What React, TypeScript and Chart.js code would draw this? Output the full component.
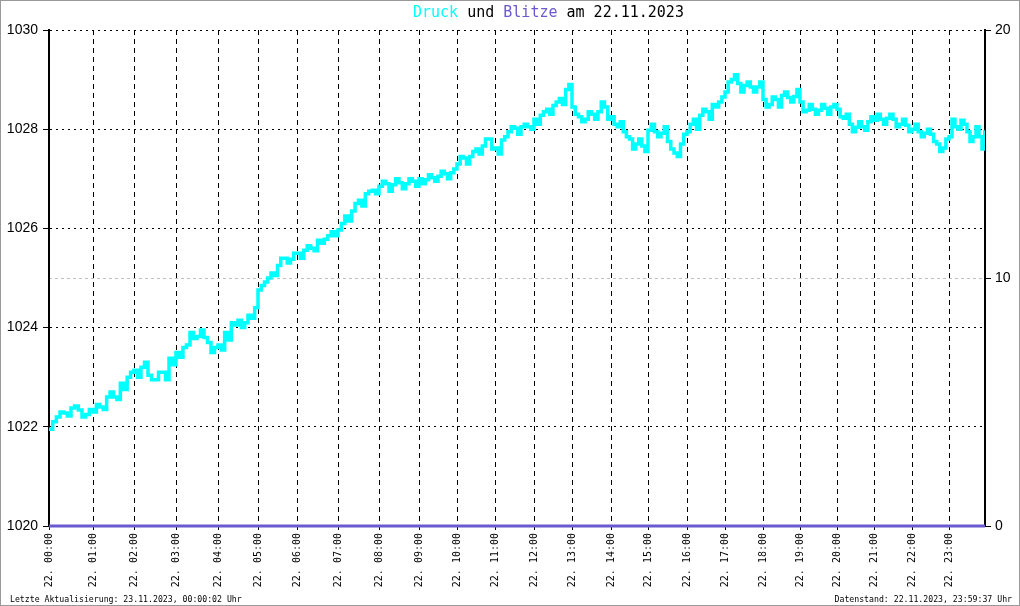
import React, { useEffect, useRef } from "react";
import { Chart, registerables } from "chart.js";

Chart.register(...registerables);

// Anzahl der Messpunkte pro Stunde (x-Achse = Messpunkt-Nummer)
const samplesPerHour = [44, 41, 42, 42, 40, 39, 41, 41, 40, 38, 38, 39, 38, 39, 37, 39, 38, 38, 37, 37, 37, 38, 37, 36];
const hourLabels = [
  "22. 00:00", "22. 01:00", "22. 02:00", "22. 03:00", "22. 04:00", "22. 05:00",
  "22. 06:00", "22. 07:00", "22. 08:00", "22. 09:00", "22. 10:00", "22. 11:00",
  "22. 12:00", "22. 13:00", "22. 14:00", "22. 15:00", "22. 16:00", "22. 17:00",
  "22. 18:00", "22. 19:00", "22. 20:00", "22. 21:00", "22. 22:00", "22. 23:00",
];

// Luftdruck (hPa) alle 5 Minuten ab 00:00 (je Zeile eine Stunde)
const pressureIntervalMin = 5;
const pressureValues = [
  1021.95, 1022.1, 1022.2, 1022.3, 1022.28, 1022.22, 1022.38, 1022.42, 1022.34, 1022.2, 1022.25, 1022.35,
  1022.3, 1022.45, 1022.4, 1022.35, 1022.6, 1022.7, 1022.6, 1022.55, 1022.88, 1022.75, 1023.0, 1023.1,
  1023.14, 1023.0, 1023.2, 1023.3, 1023.04, 1022.95, 1022.95, 1023.1, 1023.1, 1022.95, 1023.38, 1023.25,
  1023.5, 1023.4, 1023.6, 1023.65, 1023.9, 1023.78, 1023.82, 1023.95, 1023.8, 1023.7, 1023.5, 1023.6,
  1023.65, 1023.55, 1023.9, 1023.75, 1024.1, 1024.05, 1024.15, 1024.0, 1024.1, 1024.25, 1024.19, 1024.4,
  1024.76, 1024.85, 1024.92, 1025.0, 1025.1, 1025.05, 1025.25, 1025.4, 1025.4, 1025.3, 1025.38, 1025.5,
  1025.5, 1025.4, 1025.56, 1025.65, 1025.6, 1025.55, 1025.76, 1025.7, 1025.78, 1025.85, 1025.93, 1025.85,
  1025.97, 1026.1, 1026.25, 1026.15, 1026.35, 1026.5, 1026.57, 1026.45, 1026.7, 1026.75, 1026.77, 1026.7,
  1026.85, 1026.95, 1026.9, 1026.75, 1026.88, 1027.0, 1026.92, 1026.8, 1026.9, 1027.0, 1026.95, 1026.85,
  1027.0, 1026.9, 1026.98, 1027.08, 1027.02, 1026.95, 1027.05, 1027.15, 1027.1, 1027.0, 1027.12, 1027.2,
  1027.3, 1027.45, 1027.42, 1027.3, 1027.45, 1027.55, 1027.6, 1027.5, 1027.66, 1027.8, 1027.8, 1027.6,
  1027.62, 1027.5, 1027.78, 1027.85, 1027.95, 1028.05, 1028.02, 1027.9, 1028.05, 1028.1, 1028.05, 1028.0,
  1028.2, 1028.1, 1028.28, 1028.35, 1028.4, 1028.3, 1028.48, 1028.55, 1028.62, 1028.5, 1028.8, 1028.9,
  1028.45, 1028.3, 1028.25, 1028.15, 1028.2, 1028.35, 1028.3, 1028.2, 1028.35, 1028.55, 1028.45, 1028.2,
  1028.25, 1028.1, 1028.05, 1028.15, 1027.95, 1027.85, 1027.8, 1027.6, 1027.7, 1027.8, 1027.66, 1027.55,
  1027.98, 1028.1, 1027.95, 1027.85, 1027.92, 1028.05, 1027.75, 1027.6, 1027.52, 1027.45, 1027.7, 1027.9,
  1027.95, 1028.1, 1028.2, 1028.0, 1028.28, 1028.4, 1028.35, 1028.2, 1028.5, 1028.45, 1028.55, 1028.65,
  1028.75, 1028.95, 1029.0, 1029.1, 1028.92, 1028.75, 1028.88, 1028.95, 1028.85, 1028.75, 1028.85, 1028.95,
  1028.6, 1028.45, 1028.5, 1028.65, 1028.6, 1028.45, 1028.68, 1028.75, 1028.64, 1028.55, 1028.66, 1028.8,
  1028.55, 1028.35, 1028.38, 1028.5, 1028.4, 1028.3, 1028.38, 1028.5, 1028.42, 1028.3, 1028.45, 1028.5,
  1028.4, 1028.25, 1028.22, 1028.3, 1028.1, 1027.95, 1028.04, 1028.15, 1028.05, 1027.98, 1028.15, 1028.25,
  1028.18, 1028.3, 1028.2, 1028.1, 1028.22, 1028.3, 1028.2, 1028.05, 1028.1, 1028.2, 1028.08, 1027.95,
  1028.0, 1028.1, 1027.95, 1027.85, 1027.92, 1028.0, 1027.9, 1027.75, 1027.7, 1027.55, 1027.62, 1027.8,
  1027.85, 1028.2, 1028.05, 1028.0, 1028.18, 1028.1, 1027.95, 1027.75, 1027.85, 1028.05, 1027.85, 1027.6,
];
// letzter Messwert um 23:59:37
const lastSampleMinute = 1439.6;
const lastSampleValue = 1027.98;

// Blitze pro Stunde
const blitzeValues = [0, 0, 0, 0, 0, 0, 0, 0, 0, 0, 0, 0, 0, 0, 0, 0, 0, 0, 0, 0, 0, 0, 0, 0, 0];

const titleParts = [
  { text: "Druck", color: "#00ffff" },
  { text: " und ", color: "#000000" },
  { text: "Blitze", color: "#6a5acd" },
  { text: " am 22.11.2023", color: "#000000" },
];
const footerLeft = "Letzte Aktualisierung: 23.11.2023, 00:00:02 Uhr";
const footerRight = "Datenstand: 22.11.2023, 23:59:37 Uhr";

const hourStarts: number[] = [];
{
  let acc = 0;
  for (const n of samplesPerHour) {
    hourStarts.push(acc);
    acc += n;
  }
}
const totalSamples = samplesPerHour.reduce((a, b) => a + b, 0);

function minuteToIndex(m: number): number {
  const h = Math.min(Math.floor(m / 60), 23);
  const frac = (m - h * 60) / 60;
  return hourStarts[h] + frac * samplesPerHour[h];
}

const decorPlugin = {
  id: "decor",
  beforeDraw(chart: any) {
    const ctx = chart.ctx;
    ctx.save();
    ctx.fillStyle = "#ffffff";
    ctx.fillRect(0, 0, chart.width, chart.height);
    ctx.restore();
  },
  afterDraw(chart: any) {
    const ctx = chart.ctx;
    ctx.save();
    ctx.font = "15px 'DejaVu Sans Mono'";
    ctx.textBaseline = "middle";
    ctx.textAlign = "left";
    let x = 413;
    for (const p of titleParts) {
      ctx.fillStyle = p.color;
      ctx.fillText(p.text, x, 13);
      x += ctx.measureText(p.text).width;
    }
    ctx.font = "8.2px 'DejaVu Sans Mono'";
    ctx.fillStyle = "#000000";
    ctx.textAlign = "left";
    ctx.fillText(footerLeft, 10, 600);
    ctx.textAlign = "right";
    ctx.fillText(footerRight, 1012, 600);
    ctx.strokeStyle = "#999999";
    ctx.lineWidth = 1;
    ctx.strokeRect(0.5, 0.5, chart.width - 1, chart.height - 1);
    ctx.restore();
  },
};

export default function App() {
  const canvasRef = useRef<HTMLCanvasElement | null>(null);

  useEffect(() => {
    document.body.style.margin = "0";
    const canvas = canvasRef.current;
    if (!canvas) return;

    const pressureData = pressureValues.map((v, i) => ({ x: minuteToIndex(i * pressureIntervalMin), y: v }));
    pressureData.push({ x: minuteToIndex(lastSampleMinute), y: lastSampleValue });
    const blitzeData = blitzeValues.map((v, i) => ({ x: i < 24 ? hourStarts[i] : totalSamples, y: v }));

    const chart = new Chart(canvas, {
      type: "line",
      data: {
        datasets: [
          {
            label: "Druck",
            data: pressureData,
            yAxisID: "y",
            borderColor: "#00ffff",
            borderWidth: 3.5,
            pointRadius: 0,
            stepped: true,
          },
          {
            label: "Blitze",
            data: blitzeData,
            yAxisID: "y2",
            borderColor: "#6a5acd",
            borderWidth: 3,
            pointRadius: 0,
            clip: false,
          },
        ],
      },
      options: {
        animation: false,
        responsive: false,
        devicePixelRatio: 1,
        layout: { padding: { top: 30, left: 0, right: 0, bottom: 0 } },
        plugins: {
          legend: { display: false },
          title: { display: false },
          tooltip: { enabled: false },
        },
        scales: {
          x: {
            type: "linear",
            min: 0,
            max: totalSamples,
            afterBuildTicks: (scale: any) => {
              scale.ticks = hourStarts.map((v) => ({ value: v }));
            },
            afterFit: (scale: any) => {
              scale.height = 80;
            },
            ticks: {
              autoSkip: false,
              minRotation: 90,
              maxRotation: 90,
              padding: 3,
              color: "#000000",
              font: { family: "'DejaVu Sans Mono'", size: 10 },
              callback: (_v: any, i: number) => hourLabels[i],
            },
            grid: {
              color: "#000000",
              lineWidth: 1,
              tickLength: 4,
              tickColor: "#000000",
            },
            border: { display: true, color: "#000000", width: 1, dash: [5, 4] },
          },
          y: {
            type: "linear",
            position: "left",
            min: 1020,
            max: 1030,
            afterFit: (scale: any) => {
              scale.width = 49;
            },
            ticks: {
              stepSize: 2,
              padding: 5,
              color: "#000000",
              font: { family: "'Liberation Sans'", size: 14 },
              callback: (v: any) => String(v),
            },
            grid: {
              color: "#000000",
              lineWidth: 1,
              tickLength: 6,
              tickColor: "#000000",
            },
            border: { display: true, color: "#000000", width: 2, dash: [2, 4] },
          },
          y2: {
            type: "linear",
            position: "right",
            min: 0,
            max: 20,
            afterFit: (scale: any) => {
              scale.width = 35;
            },
            ticks: {
              stepSize: 10,
              padding: 4,
              color: "#000000",
              font: { family: "'Liberation Sans'", size: 14 },
              callback: (v: any) => String(v),
            },
            grid: {
              color: (c: any) => (c.tick && c.tick.value === 10 ? "#c0c0c0" : "rgba(0,0,0,0)"),
              lineWidth: 1,
              tickLength: 6,
              tickColor: "#000000",
            },
            border: { display: true, color: "#000000", width: 2, dash: [3, 3] },
          },
        },
      },
      plugins: [decorPlugin],
    } as any);

    return () => chart.destroy();
  }, []);

  return (
    <div style={{ width: 1020, height: 606, position: "relative" }}>
      <canvas ref={canvasRef} width={1020} height={606} style={{ display: "block" }} />
    </div>
  );
}
